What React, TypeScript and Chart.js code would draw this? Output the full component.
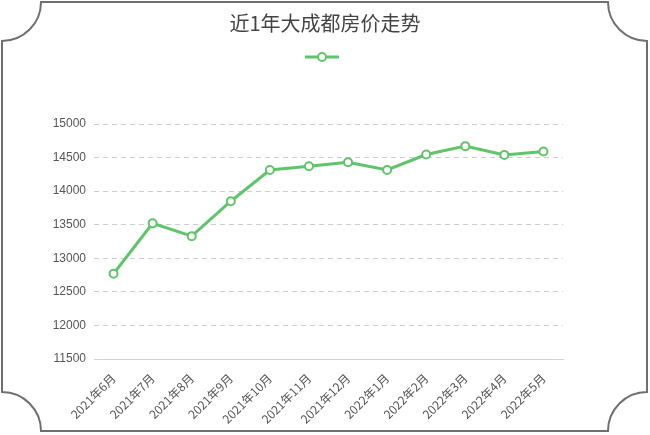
import React, { useEffect, useRef } from "react";
import { Chart, registerables } from "chart.js";

Chart.register(...registerables);

const titleText = "近1年大成都房价走势";
const categories = [
  "2021年6月", "2021年7月", "2021年8月", "2021年9月", "2021年10月", "2021年11月",
  "2021年12月", "2022年1月", "2022年2月", "2022年3月", "2022年4月", "2022年5月",
];
const prices = [12770, 13520, 13330, 13850, 14315, 14370, 14430, 14315, 14545, 14670, 14540, 14590];
const yMin = 11500;
const yMax = 15000;
const yStep = 500;

const GREEN = "#5fc46a";

const framePlugin = {
  id: "frame",
  beforeDraw(chart: any) {
    const ctx = chart.ctx;
    ctx.save();
    ctx.fillStyle = "#ffffff";
    ctx.fillRect(0, 0, chart.width, chart.height);
    const L = 2, T = 2, R = 647, B = 431, r = 39;
    ctx.beginPath();
    ctx.moveTo(L + r, T);
    ctx.lineTo(R - r, T);
    ctx.arc(R, T, r, Math.PI, Math.PI / 2, true);
    ctx.lineTo(R, B - r);
    ctx.arc(R, B, r, -Math.PI / 2, -Math.PI, true);
    ctx.lineTo(L + r, B);
    ctx.arc(L, B, r, 0, -Math.PI / 2, true);
    ctx.lineTo(L, T + r);
    ctx.arc(L, T, r, Math.PI / 2, 0, true);
    ctx.closePath();
    ctx.strokeStyle = "#6f6f6f";
    ctx.lineWidth = 2;
    ctx.stroke();
    ctx.restore();
  },
  afterDraw(chart: any) {
    const ctx = chart.ctx;
    ctx.save();
    ctx.font = '20px "Noto Sans CJK SC", sans-serif';
    ctx.fillStyle = "#444444";
    ctx.textAlign = "center";
    ctx.textBaseline = "middle";
    ctx.fillText(titleText, 325, 23);
    // legend marker
    ctx.strokeStyle = GREEN;
    ctx.lineWidth = 3;
    ctx.beginPath();
    ctx.moveTo(305, 57);
    ctx.lineTo(339, 57);
    ctx.stroke();
    ctx.beginPath();
    ctx.arc(322, 57, 4, 0, Math.PI * 2);
    ctx.fillStyle = "#ffffff";
    ctx.fill();
    ctx.lineWidth = 2;
    ctx.stroke();
    ctx.restore();
  },
};

export default function App() {
  const ref = useRef<HTMLCanvasElement>(null);
  useEffect(() => {
    if (!ref.current) return;
    const chart = new Chart(ref.current, {
      type: "line",
      data: {
        labels: categories,
        datasets: [
          {
            label: "",
            data: prices,
            borderColor: GREEN,
            backgroundColor: "#ffffff",
            borderWidth: 3,
            pointRadius: 4,
            pointBorderWidth: 2,
            pointBackgroundColor: "#ffffff",
            pointBorderColor: GREEN,
            tension: 0,
          },
        ],
      },
      options: {
        responsive: false,
        animation: false,
        layout: { padding: { top: 124, left: 0, right: 87, bottom: 0 } },
        plugins: {
          legend: { display: false },
          title: { display: false },
          tooltip: { enabled: false },
        },
        scales: {
          x: {
            offset: true,
            grid: { display: false, drawTicks: false },
            border: { display: true, color: "#c3d8d8", width: 1 },
            ticks: {
              autoSkip: false,
              maxRotation: 45,
              minRotation: 45,
              padding: 12,
              color: "#555555",
              font: { size: 12, family: '"Noto Sans CJK SC", sans-serif' },
            },
            afterFit: (s: any) => {
              s.height = 76;
            },
          },
          y: {
            min: yMin,
            max: yMax,
            ticks: {
              stepSize: yStep,
              padding: 8,
              color: "#555555",
              font: { size: 12, family: '"Liberation Sans", sans-serif' },
              callback: (v: any) => String(v),
            },
            grid: {
              drawTicks: false,
              color: (c: any) => (c.tick && c.tick.value === yMin ? "rgba(0,0,0,0)" : "#cccccc"),
            },
            border: { display: false, dash: [5, 4] },
            afterFit: (s: any) => {
              s.width = 94;
            },
          },
        },
      },
      plugins: [framePlugin],
    });
    return () => chart.destroy();
  }, []);
  return (
    <div style={{ position: "fixed", left: 0, top: 0, width: 650, height: 435 }}>
      <canvas ref={ref} width={650} height={435} />
    </div>
  );
}
